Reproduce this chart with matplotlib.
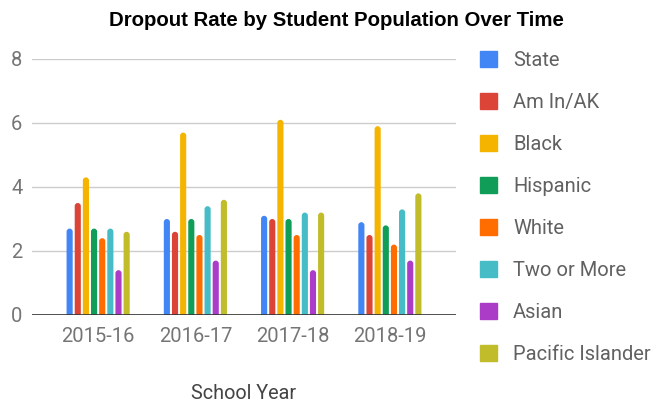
import matplotlib.pyplot as plt
from matplotlib.patches import FancyBboxPatch
import numpy as np

years = ["2015-16", "2016-17", "2017-18", "2018-19"]
groups = ["State", "Am In/AK", "Black", "Hispanic", "White",
          "Two or More", "Asian", "Pacific Islander"]

state = [2.7, 3.0, 3.1, 2.9]
am_in_ak = [3.5, 2.6, 3.0, 2.5]
black = [4.3, 5.7, 6.1, 5.9]
hispanic = [2.7, 3.0, 3.0, 2.8]
white = [2.4, 2.5, 2.5, 2.2]
two_or_more = [2.7, 3.4, 3.2, 3.3]
asian = [1.4, 1.7, 1.4, 1.7]
pacific_islander = [2.6, 3.6, 3.2, 3.8]

series = [state, am_in_ak, black, hispanic, white, two_or_more, asian, pacific_islander]
colors = ["#4285F4", "#DB4437", "#F4B400", "#0F9D58", "#FF6D00",
          "#46BDC6", "#AB3CC8", "#C0BC2A"]

plt.rcParams["font.family"] = ["Roboto", "DejaVu Sans"]

fig = plt.figure(figsize=(6.52, 4.05), dpi=100)
ax = fig.add_axes([32 / 652, 1 - 315 / 405, 424 / 652, 256 / 405])

ax.set_xlim(-0.68, 3.68)
ax.set_ylim(0, 8)

# y data units per x data unit on screen, so the rounded tops stay circular
aspect = (8 / 256) / (4.36 / 424)

x = np.arange(len(years))
slot = 0.67 / len(series)
width = 0.063
r = width / 2
for i, (vals, name, c) in enumerate(zip(series, groups, colors)):
    bars = ax.bar(x + (i - 3.5) * slot, vals, width=width, color=c, label=name, zorder=3)
    for rect in bars:
        rect.set_visible(False)
        bx, h = rect.get_x(), rect.get_height()
        ax.add_patch(FancyBboxPatch((bx, -r * aspect), width, h + r * aspect,
                                    boxstyle=f"round,pad=0,rounding_size={r}",
                                    mutation_aspect=aspect, facecolor=c,
                                    edgecolor="none", zorder=3))

ax.set_yticks([0, 2, 4, 6, 8])
ax.set_xticks(x)
ax.set_xticklabels(years)
ax.grid(axis="y", color="#cccccc", linewidth=1, zorder=0)
ax.axhline(0, color="#333333", linewidth=1.2, zorder=4)
for s in ax.spines.values():
    s.set_visible(False)
ax.tick_params(axis="both", length=0, labelsize=14.5, labelcolor="#757575")
ax.tick_params(axis="y", pad=7)
ax.tick_params(axis="x", pad=9)

ax.set_xlabel("School Year", fontsize=14.3, color="#444444", labelpad=27)

fig.text(336 / 652, 1 - 20 / 405, "Dropout Rate by Student Population Over Time",
         ha="center", va="center", fontsize=14.7, fontweight="bold",
         family=["Liberation Sans", "DejaVu Sans"], color="black")

handles = [plt.Rectangle((0, 0), 1, 1, color=c) for c in colors]
leg = fig.legend(handles, groups, loc="upper left",
                 bbox_to_anchor=(480 / 652, 1 - 51 / 405),
                 frameon=False, fontsize=14.5, labelspacing=1.14,
                 handlelength=0.85, handleheight=0.85, handletextpad=0.8,
                 borderpad=0, borderaxespad=0)
for t in leg.get_texts():
    t.set_color("#616161")

fig.savefig("out.png", dpi=100)
